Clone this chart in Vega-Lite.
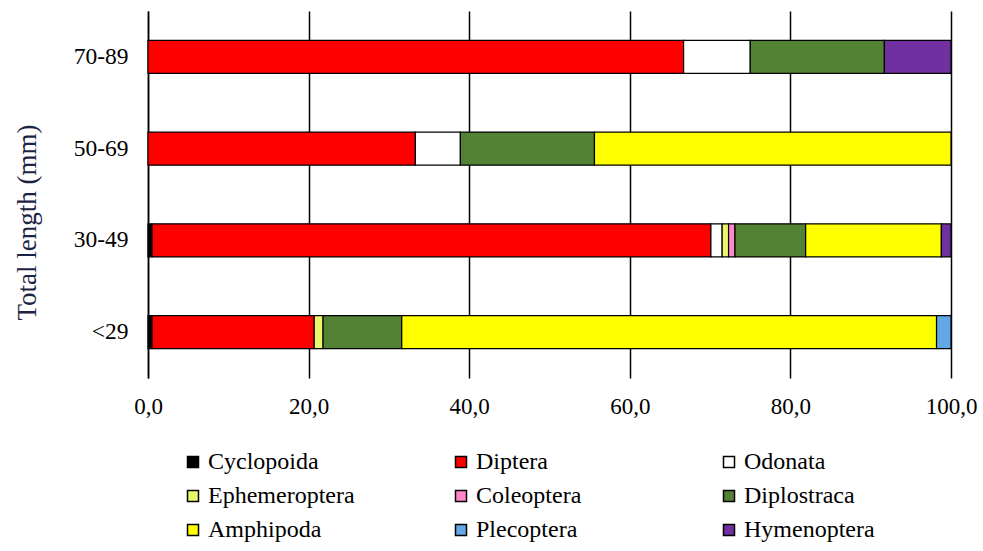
{
  "$schema": "https://vega.github.io/schema/vega-lite/v6.json",
  "autosize": "none",
  "width": 803,
  "height": 367,
  "padding": {"left": 148, "top": 11, "right": 32, "bottom": 173},
  "background": "white",
  "config": {
    "font": "Liberation Serif",
    "view": {"stroke": null}
  },
  "data": {
    "values": [
      {"size": "70-89", "taxon": "Diptera", "pct": 66.7, "k": 2},
      {"size": "70-89", "taxon": "Odonata", "pct": 8.3, "k": 3},
      {"size": "70-89", "taxon": "Diplostraca", "pct": 16.7, "k": 6},
      {"size": "70-89", "taxon": "Hymenoptera", "pct": 8.3, "k": 9},
      {"size": "50-69", "taxon": "Diptera", "pct": 33.3, "k": 2},
      {"size": "50-69", "taxon": "Odonata", "pct": 5.6, "k": 3},
      {"size": "50-69", "taxon": "Diplostraca", "pct": 16.7, "k": 6},
      {"size": "50-69", "taxon": "Amphipoda", "pct": 44.4, "k": 7},
      {"size": "30-49", "taxon": "Cyclopoida", "pct": 0.5, "k": 1},
      {"size": "30-49", "taxon": "Diptera", "pct": 69.6, "k": 2},
      {"size": "30-49", "taxon": "Odonata", "pct": 1.4, "k": 3},
      {"size": "30-49", "taxon": "Ephemeroptera", "pct": 0.8, "k": 4},
      {"size": "30-49", "taxon": "Coleoptera", "pct": 0.8, "k": 5},
      {"size": "30-49", "taxon": "Diplostraca", "pct": 8.8, "k": 6},
      {"size": "30-49", "taxon": "Amphipoda", "pct": 16.9, "k": 7},
      {"size": "30-49", "taxon": "Hymenoptera", "pct": 1.2, "k": 9},
      {"size": "<29", "taxon": "Cyclopoida", "pct": 0.5, "k": 1},
      {"size": "<29", "taxon": "Diptera", "pct": 20.2, "k": 2},
      {"size": "<29", "taxon": "Ephemeroptera", "pct": 1.1, "k": 4},
      {"size": "<29", "taxon": "Diplostraca", "pct": 9.8, "k": 6},
      {"size": "<29", "taxon": "Amphipoda", "pct": 66.6, "k": 7},
      {"size": "<29", "taxon": "Plecoptera", "pct": 1.8, "k": 8}
    ]
  },
  "mark": {"type": "bar", "stroke": "black", "strokeWidth": 1.2},
  "encoding": {
    "y": {
      "field": "size",
      "type": "nominal",
      "sort": ["70-89", "50-69", "30-49", "<29"],
      "scale": {"paddingInner": 0.64, "paddingOuter": 0.32},
      "axis": {
        "title": "Total length (mm)",
        "titleFont": "Liberation Serif",
        "titleFontSize": 27,
        "titleFontWeight": "normal",
        "titleColor": "#1b2444",
        "titlePadding": 32,
        "titleY": 211,
        "labelFont": "Liberation Serif",
        "labelFontSize": 23.5,
        "labelColor": "black",
        "labelPadding": 20,
        "ticks": false,
        "domain": true,
        "domainColor": "black",
        "domainWidth": 1.5,
        "grid": false
      }
    },
    "x": {
      "field": "pct",
      "type": "quantitative",
      "stack": "zero",
      "scale": {"domain": [0, 100], "nice": false},
      "axis": {
        "title": null,
        "values": [0, 20, 40, 60, 80, 100],
        "labelExpr": "replace(format(datum.value, '.1f'), '.', ',')",
        "labelFont": "Liberation Serif",
        "labelFontSize": 23,
        "labelColor": "black",
        "labelPadding": 17,
        "labelFlush": false,
        "ticks": false,
        "domain": false,
        "grid": true,
        "gridColor": "black",
        "gridWidth": 1.5,
        "gridOpacity": 1
      }
    },
    "order": {"field": "k", "type": "quantitative"},
    "color": {
      "field": "taxon",
      "type": "nominal",
      "scale": {
        "domain": ["Cyclopoida", "Diptera", "Odonata", "Ephemeroptera", "Coleoptera", "Diplostraca", "Amphipoda", "Plecoptera", "Hymenoptera"],
        "range": ["#000000", "#ff0000", "#ffffff", "#eaf76a", "#ff88c8", "#548235", "#ffff00", "#62a7e6", "#7030a0"]
      },
      "legend": {
        "title": null,
        "orient": "none",
        "legendX": 33,
        "legendY": 439,
        "direction": "horizontal",
        "columns": 3,
        "gridAlign": "all",
        "columnPadding": 94,
        "rowPadding": 10,
        "symbolType": "square",
        "symbolSize": 121,
        "symbolStrokeColor": "black",
        "symbolStrokeWidth": 1.5,
        "labelFont": "Liberation Serif",
        "labelFontSize": 24,
        "labelColor": "black",
        "labelOffset": 3,
        "labelLimit": 300
      }
    }
  }
}
